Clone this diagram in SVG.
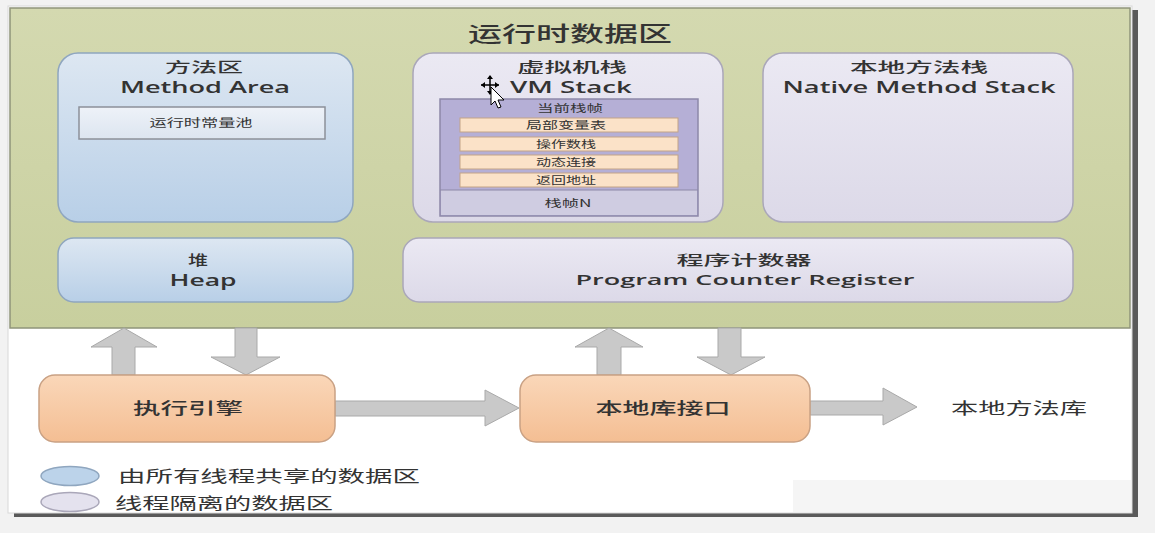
<svg xmlns="http://www.w3.org/2000/svg" width="1155" height="533" viewBox="0 0 1155 533">
<defs>
<linearGradient id="gGreen" x1="0" y1="0" x2="0" y2="1"><stop offset="0" stop-color="#d4d9b0"/><stop offset="1" stop-color="#c8cf9e"/></linearGradient>
<linearGradient id="gBlue" x1="0" y1="0" x2="0" y2="1"><stop offset="0" stop-color="#dde7f2"/><stop offset="1" stop-color="#b8cfe7"/></linearGradient>
<linearGradient id="gLav" x1="0" y1="0" x2="0" y2="1"><stop offset="0" stop-color="#ebe9f3"/><stop offset="1" stop-color="#dcd9e8"/></linearGradient>
<linearGradient id="gOrange" x1="0" y1="0" x2="0" y2="1"><stop offset="0" stop-color="#fad7b9"/><stop offset="1" stop-color="#f4be93"/></linearGradient>
<linearGradient id="gPool" x1="0" y1="0" x2="0" y2="1"><stop offset="0" stop-color="#eef2f8"/><stop offset="1" stop-color="#dce5f0"/></linearGradient>
</defs>
<style>
.t{font-family:"Open Sans","Noto Sans","Noto Sans CJK SC",sans-serif;fill:#333;text-anchor:middle;font-weight:600}
.cn{font-family:"Noto Sans CJK SC",sans-serif;fill:#333;text-anchor:middle}
.m{font-weight:500}
.blue{fill:url(#gBlue);stroke:#8fa6bf;stroke-width:1.5}
.lav{fill:url(#gLav);stroke:#aaa7b9;stroke-width:1.5}
.org{fill:url(#gOrange);stroke:#c9a184;stroke-width:1.5}
.arr{fill:#c9c9c9;stroke:#a9a9a9;stroke-width:1}
.row{fill:#fbe2c8;stroke:#c3a487;stroke-width:1}
</style>
<rect x="0" y="0" width="1155" height="533" fill="#f2f2f2"/>
<rect x="14" y="10" width="1124" height="507" fill="#5a5a5a"/>
<rect x="8" y="6" width="1124" height="507" fill="#ffffff" stroke="#d8d8d8" stroke-width="1"/>
<rect x="793" y="480" width="338" height="32" fill="#f5f5f5"/>
<g id="runtime-data-area">
<rect x="10" y="8" width="1120" height="320" fill="url(#gGreen)" stroke="#8f947a" stroke-width="1.5"/>
<text class="cn m" x="570" y="41" font-size="21" textLength="204" lengthAdjust="spacingAndGlyphs">运行时数据区</text>
</g>
<g id="method-area">
<rect class="blue" x="58" y="53" width="295" height="169" rx="20"/>
<text class="cn m" x="204" y="72" font-size="14" textLength="78" lengthAdjust="spacingAndGlyphs">方法区</text>
<text class="t" x="205" y="93" font-size="16" textLength="170" lengthAdjust="spacingAndGlyphs">Method Area</text>
<g id="runtime-constant-pool">
<rect x="79" y="107" width="246" height="32" fill="url(#gPool)" stroke="#8c9099" stroke-width="1.5"/>
<text class="cn" x="201" y="127" font-size="11" textLength="103" lengthAdjust="spacingAndGlyphs">运行时常量池</text>
</g>
</g>
<g id="vm-stack">
<rect class="lav" x="413" y="53" width="310" height="169" rx="20"/>
<text class="cn m" x="572" y="72" font-size="14" textLength="110" lengthAdjust="spacingAndGlyphs">虚拟机栈</text>
<text class="t" x="571" y="93" font-size="16" textLength="122" lengthAdjust="spacingAndGlyphs">VM Stack</text>
<g id="stack-frame">
<rect x="440" y="99" width="258" height="117" fill="#b5afd6" stroke="#8d88a8" stroke-width="1.5"/>
<rect x="441" y="190" width="256" height="25" fill="#cfcce1"/>
<line x1="440" y1="190" x2="698" y2="190" stroke="#8d88a8" stroke-width="1"/>
<text class="cn" x="570" y="112" font-size="10" textLength="66" lengthAdjust="spacingAndGlyphs">当前栈帧</text>
<rect class="row" x="460" y="118" width="218" height="14"/>
<text class="cn" x="566" y="129" font-size="10" textLength="80" lengthAdjust="spacingAndGlyphs">局部变量表</text>
<rect class="row" x="460" y="137" width="218" height="14"/>
<text class="cn" x="566" y="148" font-size="10" textLength="60" lengthAdjust="spacingAndGlyphs">操作数栈</text>
<rect class="row" x="460" y="155" width="218" height="14"/>
<text class="cn" x="566" y="166" font-size="10" textLength="60" lengthAdjust="spacingAndGlyphs">动态连接</text>
<rect class="row" x="460" y="173" width="218" height="14"/>
<text class="cn" x="566" y="184" font-size="10" textLength="60" lengthAdjust="spacingAndGlyphs">返回地址</text>
<text class="cn" x="568" y="207" font-size="10" textLength="47" lengthAdjust="spacingAndGlyphs">栈帧N</text>
</g>
</g>
<g id="native-method-stack">
<rect class="lav" x="763" y="53" width="310" height="169" rx="20"/>
<text class="cn m" x="919" y="72" font-size="14" textLength="138" lengthAdjust="spacingAndGlyphs">本地方法栈</text>
<text class="t" x="919" y="93" font-size="16" textLength="273" lengthAdjust="spacingAndGlyphs">Native Method Stack</text>
</g>
<g id="heap">
<rect class="blue" x="58" y="238" width="295" height="64" rx="16"/>
<text class="cn m" x="198" y="265" font-size="14" textLength="20" lengthAdjust="spacingAndGlyphs">堆</text>
<text class="t" x="203" y="286" font-size="16" textLength="67" lengthAdjust="spacingAndGlyphs">Heap</text>
</g>
<g id="program-counter-register">
<rect class="lav" x="403" y="238" width="670" height="64" rx="16"/>
<text class="cn m" x="744" y="265" font-size="14" textLength="135" lengthAdjust="spacingAndGlyphs">程序计数器</text>
<text class="t" x="745" y="285" font-size="15" textLength="339" lengthAdjust="spacingAndGlyphs">Program Counter Register</text>
</g>
<g id="connectors">
<polygon class="arr" points="112,375 112,347 91,347 124,328 157,347 135,347 135,375"/>
<polygon class="arr" points="235,328 257,328 257,357 280,357 246,375 211,357 235,357"/>
<polygon class="arr" points="597,375 597,347 575,347 609,328 643,347 621,347 621,375"/>
<polygon class="arr" points="718,328 741,328 741,357 765,357 731,375 697,357 718,357"/>
<polygon class="arr" points="335,401 485,401 485,390 519,408 485,426 485,416 335,416"/>
<polygon class="arr" points="810,401 883,401 883,388 917,407 883,425 883,415 810,415"/>
</g>
<g id="execution-engine">
<rect class="org" x="39" y="375" width="296" height="67" rx="16"/>
<text class="cn m" x="188" y="414" font-size="16" textLength="110" lengthAdjust="spacingAndGlyphs">执行引擎</text>
</g>
<g id="native-interface">
<rect class="org" x="520" y="375" width="290" height="67" rx="16"/>
<text class="cn m" x="663" y="414" font-size="16" textLength="135" lengthAdjust="spacingAndGlyphs">本地库接口</text>
</g>
<g id="native-method-library">
<text class="cn" x="1019" y="414" font-size="16" textLength="136" lengthAdjust="spacingAndGlyphs">本地方法库</text>
</g>
<g id="legend">
<ellipse cx="70" cy="476" rx="29" ry="9.5" fill="#bcd3ea" stroke="#8fa6bf" stroke-width="1.5"/>
<text class="cn" x="269" y="482" font-size="16" textLength="302" lengthAdjust="spacingAndGlyphs">由所有线程共享的数据区</text>
<ellipse cx="70" cy="502" rx="29" ry="9.5" fill="#e4e2ee" stroke="#aaa7b9" stroke-width="1.5"/>
<text class="cn" x="224" y="509" font-size="16" textLength="218" lengthAdjust="spacingAndGlyphs">线程隔离的数据区</text>
</g>
<g id="cursor">
<path d="M490,76 V94 M481,85 H499" stroke="#000" stroke-width="1.5" fill="none"/>
<polygon points="487,79 490,75 493,79" fill="#000"/>
<polygon points="487,91 490,95 493,91" fill="#000"/>
<polygon points="485,82 481,85 485,88" fill="#000"/>
<polygon points="495,82 499,85 495,88" fill="#000"/>
<polygon points="491,87 491,105 495,101 498,108 501,107 498,100 504,100" fill="#fff" stroke="#000" stroke-width="1"/>
</g>
</svg>
